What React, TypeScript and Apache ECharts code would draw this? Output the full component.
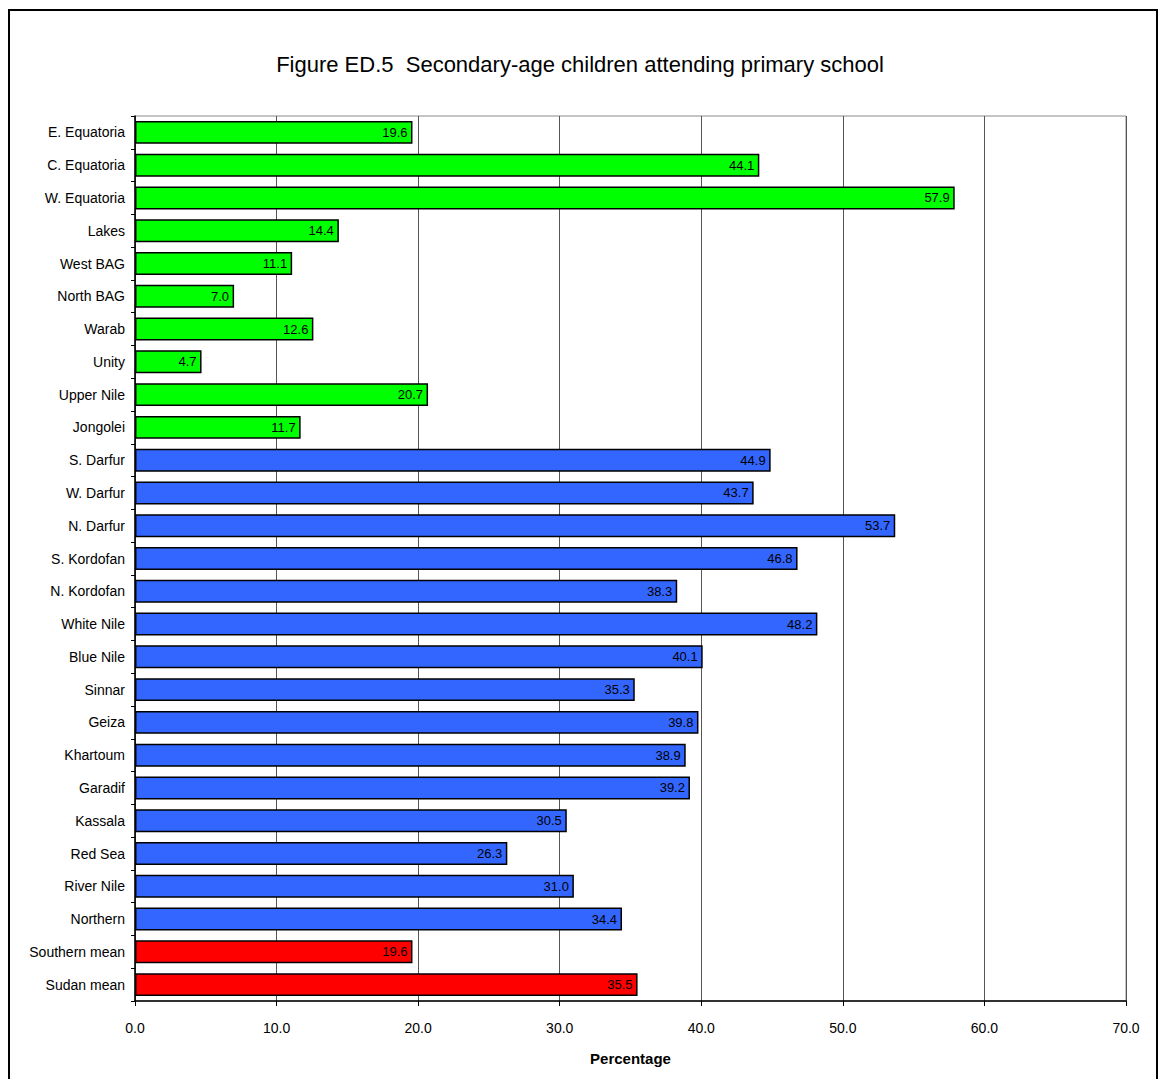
import React, { useEffect, useRef } from "react";
import * as echarts from "echarts";

const categories = [
  "E. Equatoria", "C. Equatoria", "W. Equatoria", "Lakes", "West BAG", "North BAG",
  "Warab", "Unity", "Upper Nile", "Jongolei", "S. Darfur", "W. Darfur", "N. Darfur",
  "S. Kordofan", "N. Kordofan", "White Nile", "Blue Nile", "Sinnar", "Geiza",
  "Khartoum", "Garadif", "Kassala", "Red Sea", "River Nile", "Northern",
  "Southern mean", "Sudan mean",
];
const values = [
  19.6, 44.1, 57.9, 14.4, 11.1, 7.0, 12.6, 4.7, 20.7, 11.7, 44.9, 43.7, 53.7,
  46.8, 38.3, 48.2, 40.1, 35.3, 39.8, 38.9, 39.2, 30.5, 26.3, 31.0, 34.4,
  19.6, 35.5,
];
const groups = [
  "south", "south", "south", "south", "south", "south", "south", "south", "south", "south",
  "north", "north", "north", "north", "north", "north", "north", "north", "north",
  "north", "north", "north", "north", "north", "north",
  "mean", "mean",
];
const groupColors: Record<string, string> = {
  south: "#00FF00",
  north: "#3366FF",
  mean: "#FF0000",
};
const xTicks = [0, 10, 20, 30, 40, 50, 60, 70];
const title = "Figure ED.5  Secondary-age children attending primary school";
const FONT = "'Liberation Sans', Arial, sans-serif";

export default function App() {
  const ref = useRef<HTMLDivElement>(null);
  useEffect(() => {
    if (!ref.current) return;
    const chart = echarts.init(ref.current, undefined, { renderer: "svg" });
    chart.setOption({
      animation: false,
      backgroundColor: "#ffffff",
      textStyle: { fontFamily: FONT },
      title: {
        text: title,
        left: "center",
        top: 48,
        textStyle: { fontSize: 22, fontWeight: "normal", color: "#000", fontFamily: FONT },
      },
      graphic: [
        {
          type: "rect",
          shape: { x: 9, y: 10, width: 1148, height: 1080 },
          style: { fill: "none", stroke: "#000", lineWidth: 2 },
          silent: true,
        },
      ],
      grid: {
        left: 135,
        top: 116,
        width: 991,
        height: 885,
        show: true,
        borderColor: "#8a8a8a",
        borderWidth: 1,
        backgroundColor: "transparent",
      },
      xAxis: {
        type: "value",
        min: xTicks[0],
        max: xTicks[xTicks.length - 1],
        interval: 10,
        name: "Percentage",
        nameLocation: "middle",
        nameGap: 50,
        nameTextStyle: { fontSize: 15, fontWeight: "bold", color: "#000", fontFamily: FONT },
        axisLine: { show: true, lineStyle: { color: "#000", width: 1.5 } },
        axisTick: { show: true, length: 5, lineStyle: { color: "#000" } },
        axisLabel: {
          fontSize: 14,
          color: "#000",
          margin: 20,
          fontFamily: FONT,
          formatter: (v: number) => v.toFixed(1),
        },
        splitLine: { show: true, lineStyle: { color: "#555", width: 1 } },
      },
      yAxis: {
        type: "category",
        data: categories,
        inverse: true,
        axisLine: { show: true, lineStyle: { color: "#000", width: 1.5 } },
        axisTick: { show: true, length: 4, lineStyle: { color: "#000" } },
        axisLabel: { fontSize: 14, color: "#000", margin: 10, fontFamily: FONT },
        splitLine: { show: false },
      },
      series: [
        {
          type: "bar",
          barCategoryGap: "30%",
          data: values.map((v, i) => ({
            value: v,
            itemStyle: {
              color: groupColors[groups[i]],
              borderColor: "#000",
              borderWidth: 1.5,
            },
          })),
          label: {
            show: true,
            position: "insideRight",
            distance: 5,
            fontSize: 13,
            color: "#000",
            fontFamily: FONT,
            formatter: (p: any) => Number(p.value).toFixed(1),
          },
        },
      ],
    });
    return () => chart.dispose();
  }, []);
  return (
    <div
      ref={ref}
      style={{ position: "fixed", left: 0, top: 0, width: 1160, height: 1079 }}
    />
  );
}
